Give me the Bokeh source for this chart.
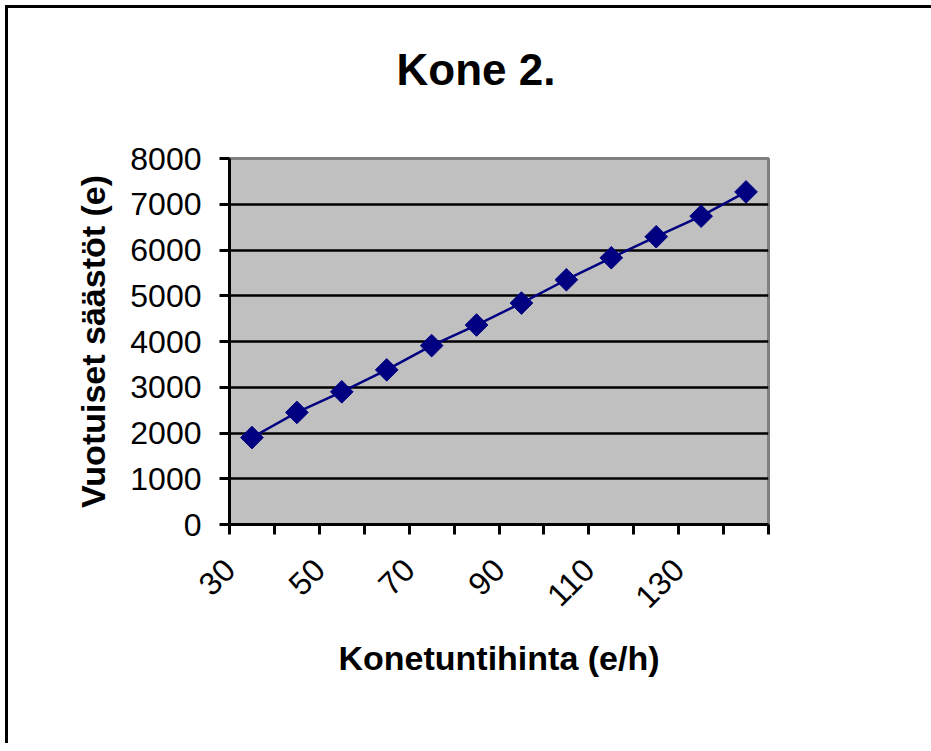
import numpy as np
from math import pi
from bokeh.plotting import figure
from bokeh.models import FixedTicker, Range1d, Title, InlineStyleSheet
from bokeh.embed import file_html
from bokeh.resources import INLINE

# --- data -------------------------------------------------------------
categories = [30, 40, 50, 60, 70, 80, 90, 100, 110, 120, 130, 140]   # Konetuntihinta (e/h)
savings = [1900, 2450, 2900, 3380, 3910, 4360, 4840, 5350, 5830, 6290, 6740, 7270]  # Vuotuiset säästöt (e)
y_ticks = [0, 1000, 2000, 3000, 4000, 5000, 6000, 7000, 8000]
label_every = 2

title_text = "Kone 2."
x_title = "Konetuntihinta (e/h)"
y_title = "Vuotuiset säästöt (e)"

FONT = "Liberation Sans"

n = len(categories)
xpos = np.arange(n) + 0.5          # category centres on a band axis
boundaries = list(range(n + 1))
overrides = {}
for b in boundaries:
    if b < n and b % label_every == 0:
        overrides[b] = str(categories[b])
    else:
        overrides[b] = ""

p = figure(frame_width=539, frame_height=366,
           x_range=Range1d(0, n), y_range=Range1d(y_ticks[0], y_ticks[-1]),
           output_backend="svg", toolbar_location=None,
           background_fill_color="#C0C0C0", border_fill_color="white")
p.min_border_left = 221
p.min_border_right = 163
p.min_border_top = 150
p.min_border_bottom = 219

p.stylesheets = [InlineStyleSheet(css=":host { margin-left: 5px; margin-top: 5px; "
                                      "border-top: 3px solid black; border-left: 3px solid black; }")]

p.outline_line_color = "#808080"
p.outline_line_width = 3

# title (padding given as left, right, top, bottom)
t = Title(text=title_text, align="left", offset=167, standoff=10, vertical_align="bottom",
          padding=(0, 0, 0, 60),
          text_font=FONT, text_font_size="44px", text_font_style="bold",
          text_color="black")
p.title = t

# grid
p.xgrid.visible = False
p.ygrid.ticker = FixedTicker(ticks=y_ticks)
p.ygrid.grid_line_color = "black"
p.ygrid.grid_line_width = 2.5

# x axis
xa = p.xaxis[0]
xa.ticker = FixedTicker(ticks=boundaries)
xa.major_label_overrides = overrides
xa.major_label_orientation = pi / 4
xa.axis_line_width = 3
xa.axis_line_color = "black"
xa.major_tick_line_width = 3
xa.major_tick_in = 0
xa.major_tick_out = 10
xa.minor_tick_line_color = None
xa.major_label_text_font = FONT
xa.major_label_text_font_size = "32px"
xa.major_label_text_color = "black"
xa.major_label_standoff = 30
xa.axis_label = x_title
xa.axis_label_text_font = FONT
xa.axis_label_text_font_size = "34px"
xa.axis_label_text_font_style = "bold"
xa.axis_label_text_color = "black"
xa.axis_label_standoff = 18

# y axis
ya = p.yaxis[0]
ya.ticker = FixedTicker(ticks=y_ticks)
ya.axis_line_width = 3
ya.axis_line_color = "black"
ya.major_tick_line_width = 3
ya.major_tick_in = 0
ya.major_tick_out = 10
ya.minor_tick_line_color = None
ya.major_label_text_font = FONT
ya.major_label_text_font_size = "32px"
ya.major_label_text_color = "black"
ya.major_label_standoff = 18
ya.axis_label = y_title
ya.axis_label_text_font = FONT
ya.axis_label_text_font_size = "34px"
ya.axis_label_text_font_style = "bold"
ya.axis_label_text_color = "black"
ya.axis_label_standoff = 15

# series
p.line(xpos, savings, line_color="#000080", line_width=2.5)
p.scatter(xpos, savings, marker="square", angle=pi / 4, size=16,
          fill_color="#000080", line_color="#000080")

open("out.html", "w").write(file_html(p, INLINE))
